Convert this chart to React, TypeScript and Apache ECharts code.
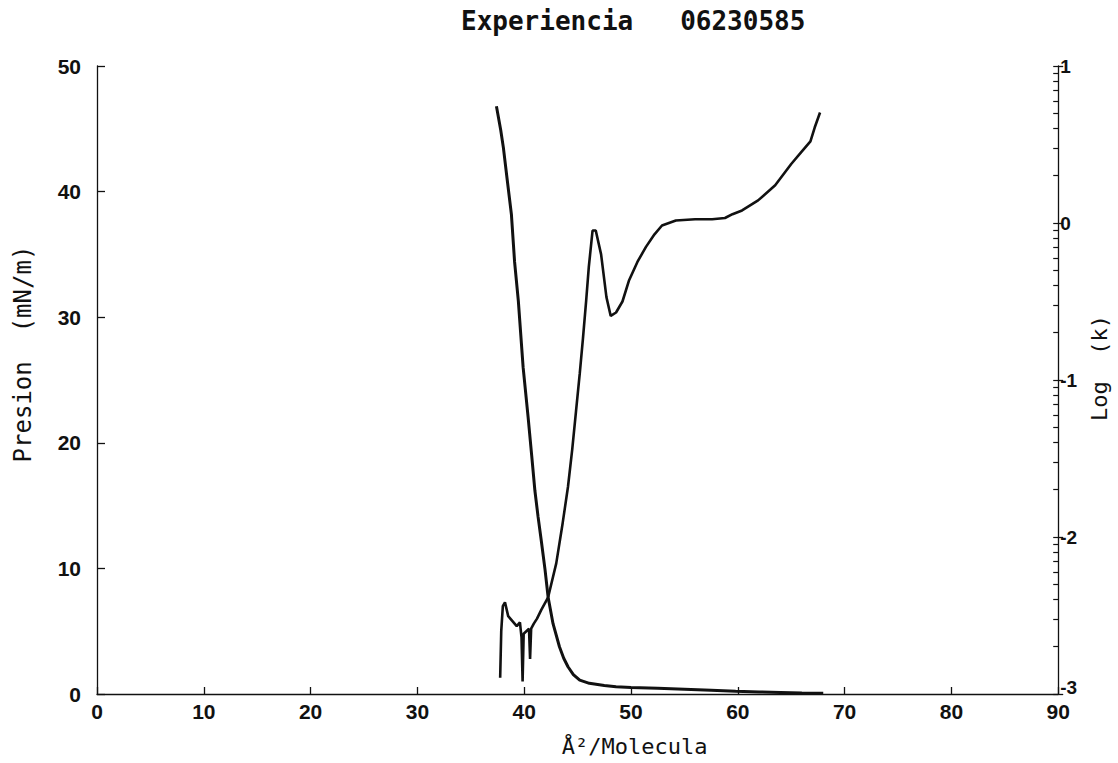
import React, { useEffect, useRef } from "react";
import * as echarts from "echarts";

const TITLE = "Experiencia   06230585";
const X_NAME = "Å²/Molecula";
const Y_LEFT_NAME = "Presion  (mN/m)";
const Y_RIGHT_NAME = "Log  (k)";

// x axis ticks 0..90, left axis 0..50, right axis (log k) -3..1
const rightTickLabels: Record<string, string> = { "1": "1", "0": "0", "-1": "-1", "-2": "-2", "-3": "-3" };

// Pressure isotherm (left axis, mN/m)
const pressureArea = [
  37.4, 37.8, 38.05, 38.4, 38.8, 39.1, 39.45, 39.9, 40.37, 40.7, 41.0, 41.3, 41.6, 41.95,
  42.24, 42.7, 43.3, 43.7, 44.1, 44.6, 45.2, 46.1, 47.5, 48.6, 50.0, 52.5, 55.0, 57.5,
  59.8, 62.0, 64.0, 66.0, 68.0,
];
const pressureValues = [
  46.8, 44.9, 43.5, 41.0, 38.2, 34.4, 31.3, 26.0, 22.0, 19.0, 16.2, 14.1, 12.2, 9.9,
  7.7, 5.6, 3.76, 2.85, 2.17, 1.55, 1.1, 0.85, 0.68, 0.58, 0.52, 0.45, 0.38, 0.3,
  0.22, 0.16, 0.12, 0.08, 0.06,
];

// log(k) curve (right axis)
const logkArea = [
  37.75, 37.85, 38.0, 38.2, 38.5, 38.9, 39.3, 39.6, 39.75, 39.85, 39.95, 40.2, 40.45, 40.55,
  40.65, 40.9, 41.2, 41.6, 42.24, 43.0, 43.6, 44.1, 44.5, 44.85, 45.2, 45.5, 45.8, 46.05,
  46.4, 46.7, 47.2, 47.7, 48.1, 48.6, 49.2, 49.8, 50.6, 51.4, 52.2, 52.9, 54.2, 56.0,
  57.6, 58.8, 59.5, 60.4, 61.9, 63.5, 65.0, 66.0, 66.8, 67.2, 67.7,
];
const logkValues = [
  -2.896, -2.6, -2.44, -2.416, -2.504, -2.536, -2.568, -2.544, -2.64, -2.92, -2.616, -2.6, -2.584, -2.776,
  -2.584, -2.552, -2.52, -2.464, -2.384, -2.168, -1.912, -1.68, -1.44, -1.2, -0.96, -0.736, -0.496, -0.28,
  -0.048, -0.048, -0.2, -0.472, -0.592, -0.57, -0.5, -0.368, -0.248, -0.152, -0.072, -0.016, 0.016, 0.024,
  0.024, 0.032, 0.056, 0.08, 0.144, 0.24, 0.376, 0.456, 0.52, 0.608, 0.704,
];

const INK = "#111";
const MONO = "'DejaVu Sans Mono', 'Liberation Mono', monospace";
const NUM = "'Liberation Sans', Arial, sans-serif";

function logMinorTicks(): number[] {
  const out: number[] = [];
  for (let d = -3; d < 1; d++) {
    out.push(d);
    for (let m = 2; m <= 9; m++) out.push(d + Math.log10(m));
  }
  out.push(1);
  return out;
}

export default function App() {
  const ref = useRef<HTMLDivElement>(null);
  useEffect(() => {
    document.body.style.margin = "0";
    const chart = echarts.init(ref.current!, null, { renderer: "svg" });
    const axisLine = { show: true, lineStyle: { color: INK, width: 1.3 } };
    chart.setOption({
      animation: false,
      backgroundColor: "#fff",
      title: {
        text: TITLE,
        left: 456,
        top: 3,
        textStyle: { fontFamily: MONO, fontSize: 26, fontWeight: "bold", color: INK },
      },
      grid: { left: 97, right: 57, top: 66, bottom: 69 },
      xAxis: {
        type: "value",
        min: 0,
        max: 90,
        interval: 10,
        axisLine,
        axisTick: { show: true, inside: true, length: 7, lineStyle: { color: INK, width: 1.3 } },
        axisLabel: { fontFamily: NUM, fontSize: 21, fontWeight: "bold", color: INK, margin: 7 },
        splitLine: { show: false },
        name: X_NAME,
        nameLocation: "middle",
        nameGap: 41,
        nameTextStyle: { fontFamily: MONO, fontSize: 22, color: INK, padding: [0, 0, 0, 114] },
      },
      yAxis: [
        {
          type: "value",
          position: "left",
          min: 0,
          max: 50,
          interval: 10,
          axisLine,
          axisTick: { show: true, inside: true, length: 8, lineStyle: { color: INK, width: 1.3 } },
          axisLabel: { fontFamily: NUM, fontSize: 21, fontWeight: "bold", color: INK, margin: 16 },
          splitLine: { show: false },
          name: Y_LEFT_NAME,
          nameLocation: "middle",
          nameRotate: 90,
          nameGap: 62,
          nameTextStyle: { fontFamily: MONO, fontSize: 24, color: INK, padding: [0, 0, 0, 52] },
        },
        {
          type: "value",
          position: "right",
          min: -3,
          max: 1,
          interval: 1,
          axisLine,
          axisTick: { show: true, inside: false, length: 5, lineStyle: { color: INK, width: 1.3 } },
          axisLabel: {
            fontFamily: NUM,
            fontSize: 19,
            fontWeight: "bold",
            color: INK,
            margin: 2,
            formatter: (v: number) =>
              v === -3 ? "{low|" + rightTickLabels["-3"] + "}" : rightTickLabels[String(v)] ?? String(v),
            rich: {
              low: { fontFamily: NUM, fontSize: 19, fontWeight: "bold", color: INK, padding: [0, 0, 14, 0] },
            },
          },
          splitLine: { show: false },
          name: Y_RIGHT_NAME,
          nameLocation: "middle",
          nameRotate: 90,
          nameGap: 26,
          nameTextStyle: { fontFamily: MONO, fontSize: 22, color: INK, padding: [0, 0, 0, 24] },
        },
        {
          type: "value",
          position: "right",
          min: -3,
          max: 1,
          axisLine: { show: false },
          axisLabel: { show: false },
          splitLine: { show: false },
          axisTick: {
            show: true,
            inside: true,
            length: 5,
            customValues: logMinorTicks(),
            lineStyle: { color: INK, width: 1.2 },
          },
        },
      ],
      series: [
        {
          name: "Presion",
          type: "line",
          xAxisIndex: 0,
          yAxisIndex: 0,
          data: pressureArea.map((x, i) => [x, pressureValues[i]]),
          symbol: "none",
          lineStyle: { color: INK, width: 3 },
        },
        {
          name: "Log (k)",
          type: "line",
          xAxisIndex: 0,
          yAxisIndex: 1,
          data: logkArea.map((x, i) => [x, logkValues[i]]),
          symbol: "none",
          lineStyle: { color: INK, width: 2.6 },
        },
      ],
    });
    return () => chart.dispose();
  }, []);
  return <div ref={ref} style={{ width: 1118, height: 763 }} />;
}
